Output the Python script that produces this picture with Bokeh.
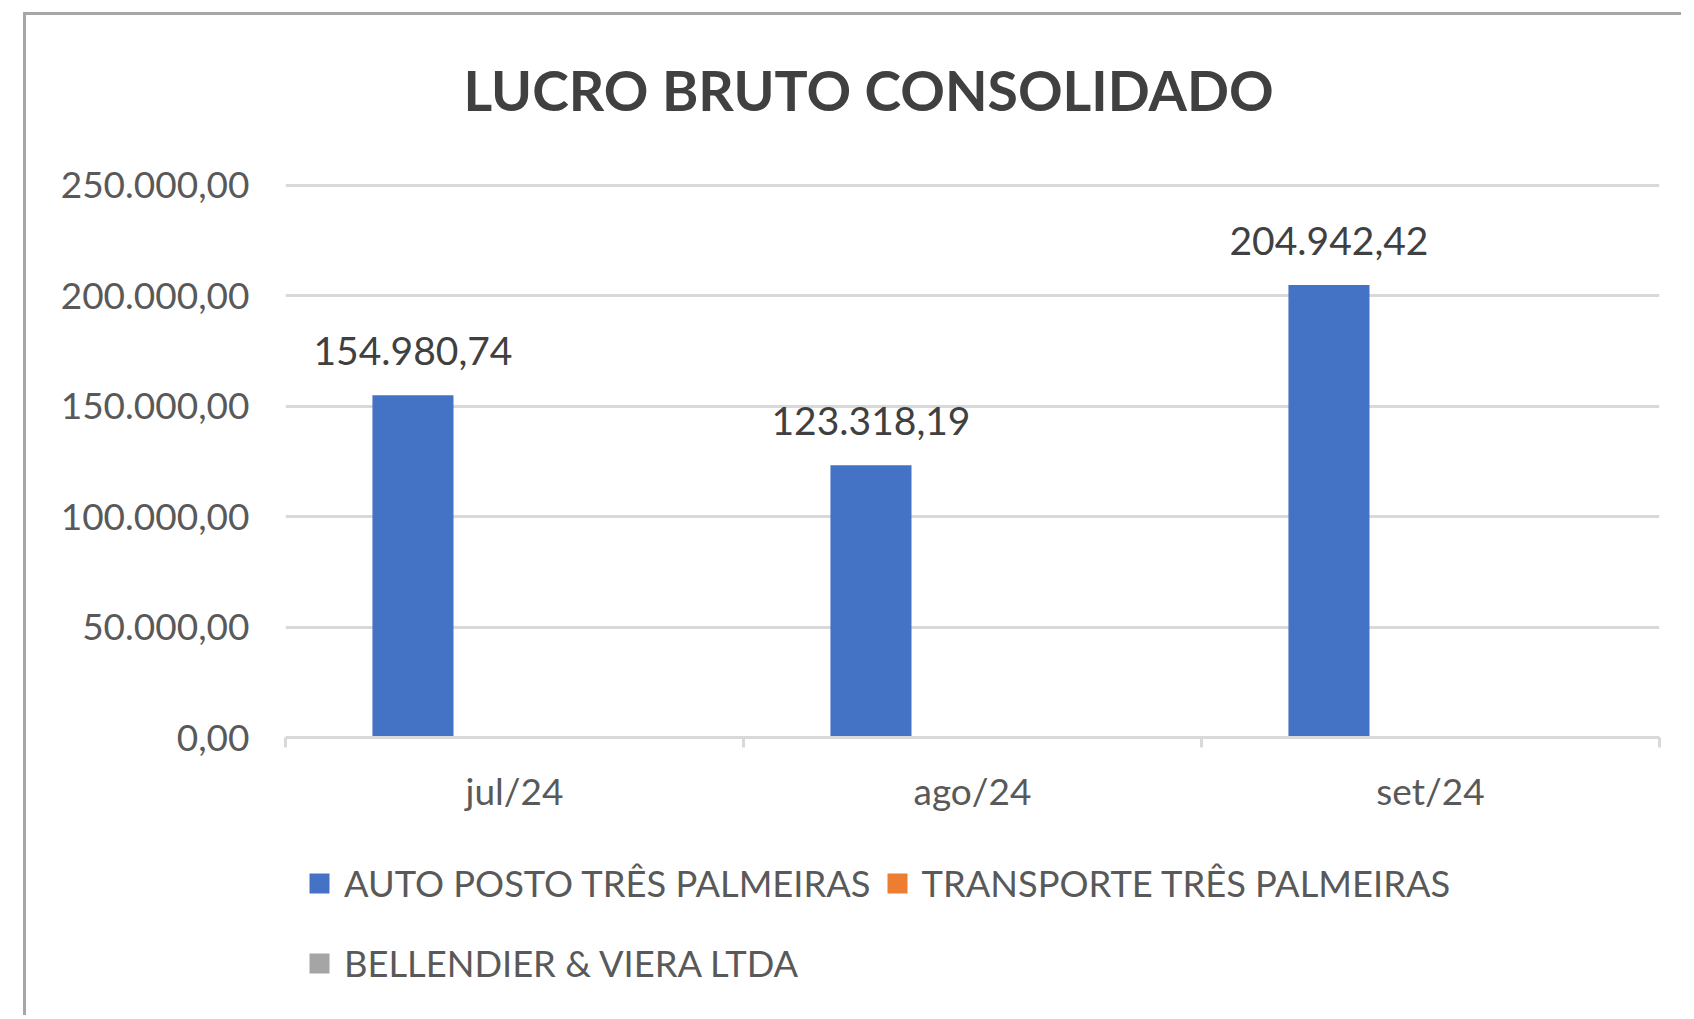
from bokeh.plotting import figure
from bokeh.models import Range1d, FixedTicker, Legend, LegendItem, ColumnDataSource, Title
from bokeh.layouts import column
from bokeh.embed import file_html
from bokeh.resources import INLINE
from bokeh.core.properties import value

# ---- data ----
months = ["jul/24", "ago/24", "set/24"]
series_names = ["AUTO POSTO TRÊS PALMEIRAS", "TRANSPORTE TRÊS PALMEIRAS", "BELLENDIER & VIERA LTDA"]
auto_posto = [154980.74, 123318.19, 204942.42]
transporte = [None, None, None]
bellendier = [None, None, None]
colors = ["#4472C4", "#ED7D31", "#A5A5A5"]
y_ticks = [0, 50000, 100000, 150000, 200000, 250000]
y_tick_labels = ["0,00", "50.000,00", "100.000,00", "150.000,00", "200.000,00", "250.000,00"]
title_text = "LUCRO BRUTO CONSOLIDADO"

FONT = "Lato"
W, H = 1655, 824
frame_left, frame_right, frame_top, frame_bottom = 259, 1633, 168, 722

def fmt_br(v):
    s = f"{v:,.2f}"
    return s.replace(",", "X").replace(".", ",").replace("X", ".")

p = figure(width=W, height=H, frame_width=frame_right - frame_left,
           frame_height=frame_bottom - frame_top,
           x_range=Range1d(0, 3), y_range=Range1d(0, 250900),
           output_backend="svg", toolbar_location=None,
           min_border_left=frame_left, min_border_right=W - frame_right,
           min_border_top=frame_top, min_border_bottom=H - frame_bottom)
p.outline_line_color = None
p.background_fill_color = "white"
p.border_fill_color = "white"

# title (spacer nearest the plot area, then the real title)
p.title.text = ""
spacer = Title(text=" ", text_font_size="1px", standoff=53)
main_title = Title(text=title_text, text_font=FONT, text_font_style="bold",
                   text_font_size="55.3px", text_color="#404040", align="left", offset=178)
p.add_layout(spacer, "above")
p.add_layout(main_title, "above")

# grid
p.xgrid.grid_line_color = None
p.ygrid.ticker = FixedTicker(ticks=y_ticks)
p.ygrid.grid_line_color = "#D9D9D9"
p.ygrid.grid_line_width = 3

# y axis
p.yaxis.ticker = FixedTicker(ticks=y_ticks)
p.yaxis.major_label_overrides = {t: l for t, l in zip(y_ticks, y_tick_labels)}
p.yaxis.axis_line_color = None
p.yaxis.major_tick_line_color = None
p.yaxis.minor_tick_line_color = None
p.yaxis.major_tick_out = 0
p.yaxis.major_label_standoff = 36
p.yaxis.major_label_text_font = FONT
p.yaxis.major_label_text_font_size = "37px"
p.yaxis.major_label_text_color = "#595959"

# x axis
centers = [i + 0.5 for i in range(len(months))]
bounds = [i for i in range(len(months) + 1)]
p.xaxis.ticker = FixedTicker(ticks=centers, minor_ticks=bounds)
p.xaxis.major_label_overrides = {c: m for c, m in zip(centers, months)}
p.xaxis.axis_line_color = "#D9D9D9"
p.xaxis.axis_line_width = 3
p.xaxis.major_tick_line_color = None
p.xaxis.minor_tick_line_color = "#D9D9D9"
p.xaxis.minor_tick_line_width = 3
p.xaxis.minor_tick_out = 10
p.xaxis.minor_tick_in = 0
p.xaxis.major_label_standoff = 20
p.xaxis.major_label_text_font = FONT
p.xaxis.major_label_text_font_size = "37px"
p.xaxis.major_label_text_color = "#595959"

# legend figure (below the chart)
HL = 176
pl = figure(width=W, height=HL, x_range=Range1d(0, 1), y_range=Range1d(0, 1),
            output_backend="svg", toolbar_location=None,
            min_border_left=frame_left, min_border_right=W - frame_right,
            min_border_top=10, min_border_bottom=18)
pl.axis.visible = False
pl.grid.visible = False
pl.outline_line_color = None
pl.background_fill_color = "white"
pl.border_fill_color = "white"

# bars
bar_w = 0.177
step = 0.2217
swatches = []
nan = float("nan")
for k, (name, vals, col) in enumerate(zip(series_names, [auto_posto, transporte, bellendier], colors)):
    xs = [c + (k - 1) * step for c in centers]
    tops = [nan if v is None else v for v in vals]
    src = ColumnDataSource(dict(x=xs, top=tops))
    p.vbar(x="x", top="top", bottom=0, width=bar_w, source=src,
           fill_color=col, line_color=None)
    # legend swatch renderer (square marker, nothing plotted)
    sw = pl.scatter(x=[nan], y=[nan], marker="square", fill_color=col, line_color=None)
    swatches.append(sw)
    lab_x = [x for x, v in zip(xs, vals) if v is not None]
    lab_y = [v for v in vals if v is not None]
    lab_t = [fmt_br(v) for v in vals if v is not None]
    if lab_x:
        p.text(x=lab_x, y=lab_y, text=lab_t, text_align="center", text_baseline="middle",
               y_offset=-44, text_font=value(FONT), text_font_size="39px", text_color="#404040")

def make_legend(items, loc):
    return Legend(items=items, location=loc, orientation="horizontal",
                  padding=0, margin=9, spacing=1, glyph_width=50, glyph_height=50,
                  label_height=50, label_standoff=0,
                  label_text_font=FONT, label_text_font_size="36.3px",
                  label_text_color="#595959", border_line_color=None,
                  background_fill_alpha=0)

lg1 = make_legend([LegendItem(label=series_names[0], renderers=[swatches[0]]),
                   LegendItem(label=series_names[1], renderers=[swatches[1]])], "top_left")
lg2 = make_legend([LegendItem(label=series_names[2], renderers=[swatches[2]])], "bottom_left")
pl.add_layout(lg1, "center")
pl.add_layout(lg2, "center")

layout = column(p, pl, spacing=0)
layout.styles = {"margin-left": "23px", "margin-top": "12px",
                 "border-left": "3px solid #A6A6A6", "border-top": "3px solid #A6A6A6"}

open("out.html", "w").write(file_html(layout, INLINE))
